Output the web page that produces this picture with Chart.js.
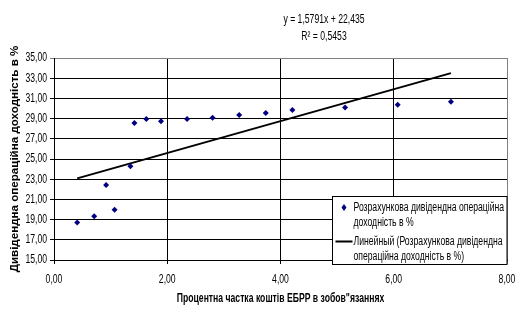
<!DOCTYPE html>
<html>
<head>
<meta charset="utf-8">
<script src="https://cdn.jsdelivr.net/npm/chart.js@4"></script>
<style>
  html, body { margin: 0; padding: 0; background: #fff; }
  #wrap { width: 520px; height: 323px; }
</style>
</head>
<body>
<div id="wrap"><canvas id="chart" width="520" height="323"></canvas></div>
<script>
// data
const xValues = [0.41, 0.71, 0.92, 1.07, 1.35, 1.42, 1.63, 1.89, 2.35, 2.80, 3.27, 3.74, 4.21, 5.14, 6.07, 7.01];
const yValues = [18.72, 19.32, 22.43, 19.98, 24.27, 28.56, 28.96, 28.73, 28.96, 29.09, 29.36, 29.55, 29.85, 30.11, 30.38, 30.67];
const trendSlope = 1.5791;
const trendIntercept = 22.435;
const rSquared = '0,5453';
const xTicks = [0, 2, 4, 6, 8];
const yTicks = [15, 17, 19, 21, 23, 25, 27, 29, 31, 33, 35];

const seriesLines = ['Розрахункова дивідендна операційна', 'доходність в %'];
const trendLines = ['Линейный (Розрахункова дивідендна', 'операційна доходність в %)'];
const xTitle = 'Процентна частка коштів ЕБРР в зобов"язаннях';
const yTitle = 'Дивідендна операційна доходність в %';

const FONT = '"Liberation Sans", Arial, sans-serif';
const SX = 0.72; // the original text is horizontally squeezed
const fmt = v => v.toFixed(2).replace('.', ',');
const comma = v => String(v).replace('.', ',');

const points = xValues.map((x, i) => ({ x: x, y: yValues[i] }));
const xFirst = Math.min(...xValues), xLast = Math.max(...xValues);
const trend = [
  { x: xFirst, y: trendSlope * xFirst + trendIntercept },
  { x: xLast, y: trendSlope * xLast + trendIntercept }
];

function squeezed(c, text, x, y, align, font) {
  c.save();
  c.translate(x, y);
  c.scale(SX, 1);
  c.font = font;
  c.textAlign = align;
  c.textBaseline = 'middle';
  c.fillText(text, 0, 0);
  c.restore();
}

// tick labels, x title, equation and legend box
const overlay = {
  id: 'overlay',
  afterDraw(chart) {
    const c = chart.ctx;
    const a = chart.chartArea;
    const sx = chart.scales.x, sy = chart.scales.y;
    c.save();
    c.fillStyle = '#000';
    const tickFont = '12px ' + FONT;
    sx.ticks.forEach(t => squeezed(c, fmt(t.value), sx.getPixelForValue(t.value), a.bottom + 20, 'center', tickFont));
    sy.ticks.forEach(t => squeezed(c, fmt(t.value), a.left - 7, sy.getPixelForValue(t.value), 'right', tickFont));
    squeezed(c, xTitle, (a.left + a.right) / 2, a.bottom + 39, 'center', 'bold 12px ' + FONT);

    const ex = 324;
    squeezed(c, 'y = ' + comma(trendSlope) + 'x + ' + comma(trendIntercept), ex, 20, 'center', '12px ' + FONT);
    squeezed(c, 'R² = ' + rSquared, ex, 37, 'center', '12px ' + FONT);

    // legend
    const bx = 332.5, by = 196.5, bw = a.right - bx, bh = 68;
    c.fillStyle = '#fff';
    c.fillRect(bx, by, bw, bh);
    c.strokeStyle = '#000';
    c.lineWidth = 1;
    c.strokeRect(bx, by, bw, bh);

    c.fillStyle = '#000';
    const lf = '12px ' + FONT;
    squeezed(c, seriesLines[0], bx + 21, by + 11, 'left', lf);
    squeezed(c, seriesLines[1], bx + 21, by + 26, 'left', lf);
    squeezed(c, trendLines[0], bx + 21, by + 45, 'left', lf);
    squeezed(c, trendLines[1], bx + 21, by + 60, 'left', lf);

    // marker
    c.fillStyle = '#000080';
    c.beginPath();
    const mx = bx + 11.5, my = by + 11;
    c.moveTo(mx, my - 3.5); c.lineTo(mx + 2.5, my); c.lineTo(mx, my + 3.5); c.lineTo(mx - 2.5, my);
    c.closePath(); c.fill();
    // line
    c.strokeStyle = '#000';
    c.lineWidth = 2;
    c.beginPath();
    c.moveTo(bx + 3, by + 45); c.lineTo(bx + 20, by + 45);
    c.stroke();
    c.restore();
  }
};

const ctx = document.getElementById('chart').getContext('2d');
new Chart(ctx, {
  type: 'scatter',
  data: {
    datasets: [
      {
        label: seriesLines.join(' '),
        data: points,
        pointStyle: 'rectRot',
        pointRadius: 3,
        backgroundColor: '#000080',
        borderColor: '#000080',
        borderWidth: 0
      },
      {
        label: trendLines.join(' '),
        type: 'line',
        data: trend,
        borderColor: '#000',
        borderWidth: 2,
        pointRadius: 0,
        fill: false,
        tension: 0
      }
    ]
  },
  options: {
    responsive: false,
    animation: false,
    layout: { padding: { top: 58, right: 13, left: 0, bottom: 0 } },
    plugins: {
      legend: { display: false },
      tooltip: { enabled: false }
    },
    scales: {
      x: {
        type: 'linear',
        min: 0,
        max: 8,
        afterFit: s => { s.height = 63; },
        afterBuildTicks: s => { s.ticks = xTicks.map(v => ({ value: v })); },
        ticks: { display: false },
        grid: { color: c => (c.tick && c.tick.value === 8) ? '#808080' : '#000', tickLength: 4, drawTicks: true },
        border: { color: '#000' }
      },
      y: {
        min: 15,
        max: 35,
        afterFit: s => { s.width = 54; },
        afterBuildTicks: s => { s.ticks = yTicks.map(v => ({ value: v })); },
        ticks: { display: false },
        grid: { color: c => (c.tick && c.tick.value === 35) ? '#808080' : '#000', tickLength: 4, drawTicks: true },
        border: { color: '#000' },
        title: { display: true, text: yTitle, color: '#000', font: { family: FONT, size: 11.6, weight: 'bold' }, padding: { top: 8, bottom: 0 } }
      }
    }
  },
  plugins: [overlay]
});
</script>
</body>
</html>
